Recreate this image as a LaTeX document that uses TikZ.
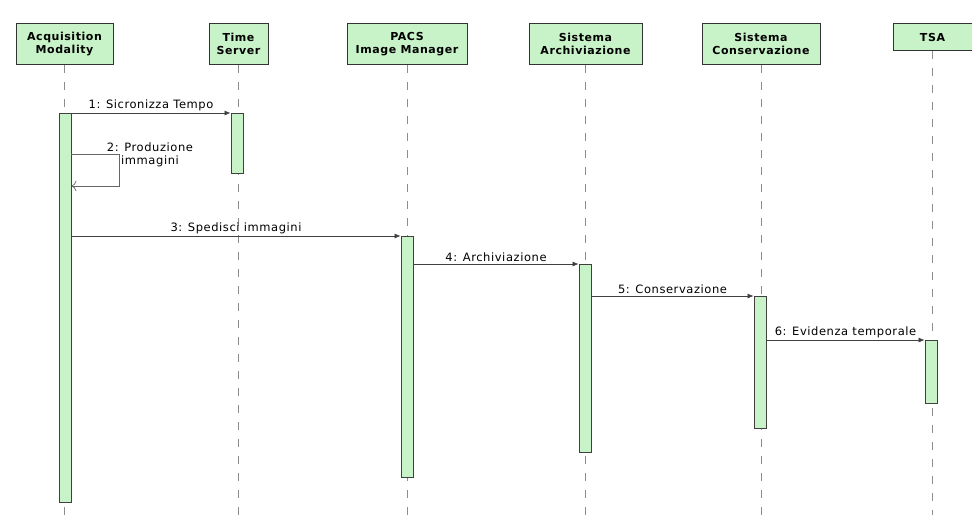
\documentclass[tikz,border=0pt]{standalone}
\usepackage{fontspec}
\setmainfont{DejaVu Sans}[LetterSpace=5]
\usetikzlibrary{arrows.meta, positioning}
\usepackage{xcolor}
\definecolor{umlgreen}{RGB}{200,242,200}

\begin{document}
\begin{tikzpicture}[
  x=1pt, y=-1pt,
  obj/.style={draw=black!80, fill=umlgreen, line width=1pt, anchor=north, minimum height=41pt, align=center, inner sep=2pt, font=\bfseries\fontsize{11}{13}\selectfont},
  act/.style={draw=black!75, fill=umlgreen, line width=0.8pt, anchor=north, minimum width=12pt, inner sep=0pt},
  life/.style={draw=black!45, line width=0.7pt, dash pattern=on 8pt off 9pt},
  msg/.style={draw=black!75, line width=0.7pt, -{Latex[length=6pt,width=5pt]}},
  selfmsg/.style={draw=black!60, line width=0.7pt, -{To[length=5pt]}},
  lbl/.style={above=1pt, inner sep=1pt, font=\fontsize{11.5}{13}\selectfont},
  >=Latex
]
\useasboundingbox (0,0) rectangle (972,515);

\node[obj, minimum width=97pt]  (acq)   at (64.5,23)  {Acquisition\\Modality};
\node[obj, minimum width=59pt]  (tserv) at (238.5,23) {Time\\Server};
\node[obj, minimum width=120pt] (pacs)  at (407,23)   {PACS\\Image Manager};
\node[obj, minimum width=113pt] (arch)  at (585.5,23) {Sistema\\Archiviazione};
\node[obj, minimum width=118pt] (cons)  at (761,23)   {Sistema\\Conservazione};
\node[obj, minimum width=79pt, minimum height=27pt] (tsa) at (932.5,23) {TSA};

% lifelines
\draw[life] (acq.south)   -- (acq.south |- 0,515);
\draw[life] (tserv.south) -- (tserv.south |- 0,515);
\draw[life] (pacs.south)  -- (pacs.south |- 0,515);
\draw[life] (arch.south)  -- (arch.south |- 0,515);
\draw[life] (cons.south)  -- (cons.south |- 0,515);
\draw[life] (tsa.south)   -- (tsa.south |- 0,515);

% activations
\node[act, minimum height=389pt] (acqAct)   at (65,113)  {};
\node[act, minimum height=60pt]  (tservAct) at (237,113) {};
\node[act, minimum height=241pt] (pacsAct)  at (407,236) {};
\node[act, minimum height=188pt] (archAct)  at (585,264) {};
\node[act, minimum height=132pt] (consAct)  at (760,296) {};
\node[act, minimum height=63pt]  (tsaAct)   at (931,340) {};

% messages
\draw[msg] (acqAct.north east) -- node[lbl] {1: Sicronizza Tempo} (tservAct.north west);
\draw[selfmsg] (acqAct.east |- 0,154) -- ++(48,0) -- ++(0,32) -- (acqAct.east |- 0,186);
\node[align=center, inner sep=0pt, font=\fontsize{11.5}{13}\selectfont] (prodLbl) at (150,155) {2: Produzione\\immagini};
\draw[msg] (acqAct.east |- pacsAct.north) -- node[lbl] {3: Spedisci immagini} (pacsAct.north west);
\draw[msg] (pacsAct.east |- archAct.north) -- node[lbl] {4: Archiviazione} (archAct.north west);
\draw[msg] (archAct.east |- consAct.north) -- node[lbl] {5: Conservazione} (consAct.north west);
\draw[msg] (consAct.east |- tsaAct.north) -- node[lbl] {6: Evidenza temporale} (tsaAct.north west);

\end{tikzpicture}
\end{document}
